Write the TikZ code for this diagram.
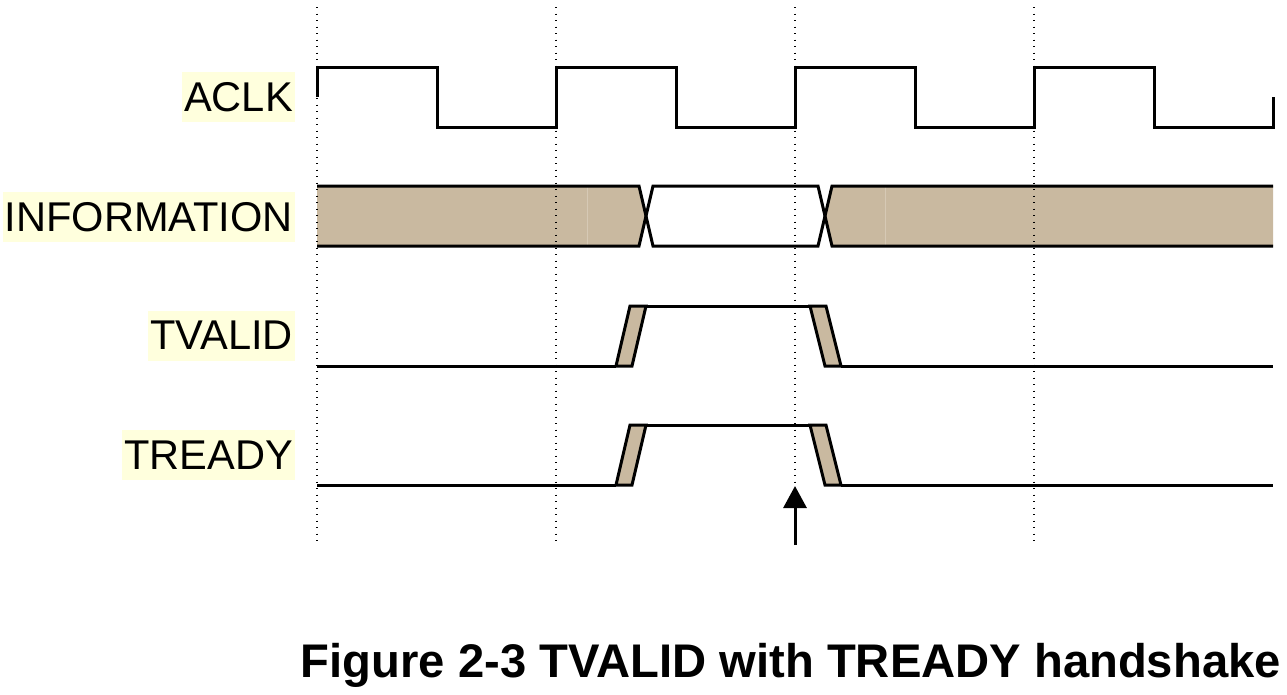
\documentclass[tikz,border=0pt]{standalone}
\usepackage{fontspec}
\setmainfont{Liberation Sans}
\usetikzlibrary{arrows.meta}
\definecolor{bustan}{RGB}{201,185,160}
\definecolor{seamtan}{RGB}{214,201,181}
\definecolor{lblyellow}{RGB}{255,255,221}
\begin{document}
\begin{tikzpicture}[x=1pt,y=-1pt,
  sig/.style={line width=3pt, line join=miter, black},
  gridline/.style={line width=1.3pt, dash pattern=on 1.3pt off 5.2pt, black},
  edgefill/.style={fill=bustan, draw=black, line width=3pt, line join=miter},
  labelbox/.style={fill=lblyellow, inner xsep=2pt, inner ysep=0pt, minimum height=50pt, anchor=east, font=\fontsize{41.6}{41.6}\selectfont},
  capfont/.style={font=\fontsize{47.2}{47.2}\selectfont\bfseries}]
\useasboundingbox (0,0) rectangle (1287,694);

% labels
\node[labelbox] (lclk) at (295,97) {ACLK};
\node[labelbox] (linfo) at (295,217) {INFORMATION};
\node[labelbox] (lvalid) at (295,335.5) {TVALID};
\node[labelbox] (lready) at (295,455) {TREADY};

% ACLK
\draw[sig] (317,97) -- (317,67) -- (437,67) -- (437,127) -- (556,127) -- (556,67)
  -- (676,67) -- (676,127) -- (795,127) -- (795,67) -- (915,67) -- (915,127)
  -- (1034,127) -- (1034,67) -- (1154,67) -- (1154,127) -- (1273,127) -- (1273,97);

% INFORMATION bus
\fill[bustan] (317,186) -- (639,186) -- (646,216) -- (639,246) -- (317,246) -- cycle;
\fill[bustan] (1273,186) -- (832,186) -- (825,216) -- (832,246) -- (1273,246) -- cycle;
\draw[seamtan, line width=1pt] (587,187) -- (587,245);
\draw[seamtan, line width=1pt] (885,187) -- (885,245);
\draw[sig] (317,186) -- (639,186) -- (653,246) -- (818,246) -- (832,186) -- (1273,186);
\draw[sig] (317,246) -- (639,246) -- (653,186) -- (818,186) -- (832,246) -- (1273,246);

% TVALID
\draw[sig] (317,366) -- (616,366);
\draw[edgefill] (616,366) -- (632,366) -- (646,306) -- (630,306) -- cycle;
\draw[sig] (646,306) -- (810,306);
\draw[edgefill] (810,306) -- (826,306) -- (841,366) -- (825,366) -- cycle;
\draw[sig] (841,366) -- (1273,366);

% TREADY
\draw[sig] (317,485) -- (616,485);
\draw[edgefill] (616,485) -- (632,485) -- (646,425) -- (630,425) -- cycle;
\draw[sig] (646,425) -- (810,425);
\draw[edgefill] (810,425) -- (826,425) -- (841,485) -- (825,485) -- cycle;
\draw[sig] (841,485) -- (1273,485);

% dotted clock-edge guides
\foreach \gx in {317,556,795,1034} {
  \draw[gridline] (\gx,7) -- (\gx,543);
}

% handshake arrow
\coordinate (atail) at (795,545);
\coordinate (atip) at (795,486);
\draw[line width=3pt, -{Triangle[width=23pt,length=22pt]}] (atail) -- (atip);

% caption
\node[anchor=base east, inner sep=0pt, capfont] (caption) at (1281,677)
  {Figure 2-3 TVALID with TREADY handshake};
\end{tikzpicture}
\end{document}
